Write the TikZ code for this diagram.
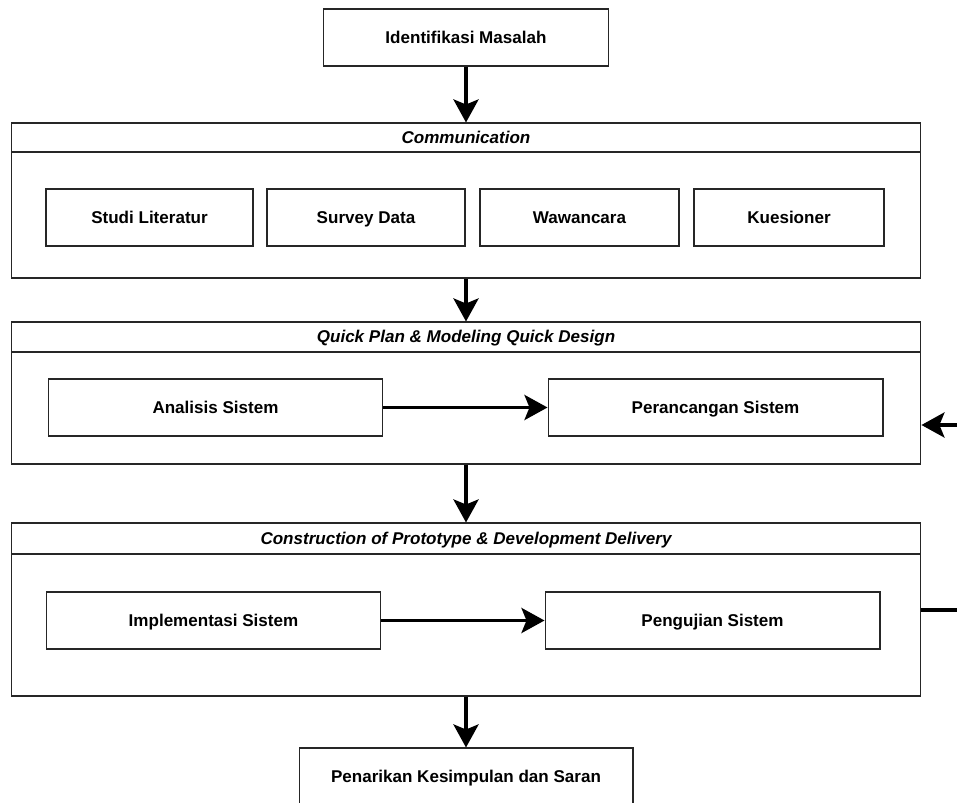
\documentclass[tikz,border=0pt]{standalone}
\usepackage{fontspec}
\setmainfont{Liberation Sans}
\usetikzlibrary{arrows.meta}
\begin{document}
\begin{tikzpicture}[x=0.02cm, y=-0.02cm,
    font=\fontsize{9.7}{11.6}\selectfont\bfseries,
    box/.style={draw=black!85, line width=0.6pt, minimum height=1.14cm, inner sep=0pt,
      text height=1.6ex, text depth=0.4ex},
    group/.style={draw=black!85, line width=0.6pt, minimum width=18.2cm, inner sep=0pt,
      text height=1.6ex, text depth=0.4ex},
    band/.style={group, font=\fontsize{9.7}{11.6}\selectfont\bfseries\itshape},
    flow/.style={line width=2.2pt, -{Stealth[length=0.46cm, width=0.5cm, inset=0.1cm]}}]
  \useasboundingbox (0,0) rectangle (957,803);
  % start
  \node[box, minimum width=5.7cm] (ident) at (466,37.5) {Identifikasi Masalah};
  % communication
  \node[group, minimum height=3.1cm] (comm) at (466,200.5) {};
  \node[band, minimum height=0.58cm] (commt) at (466,137.5) {Communication};
  \node[box, minimum width=4.14cm] (studi) at (149.5,217.5) {Studi Literatur};
  \node[box, minimum width=3.96cm] (survey) at (366,217.5) {Survey Data};
  \node[box, minimum width=3.98cm] (wawan) at (579.5,217.5) {Wawancara};
  \node[box, minimum width=3.8cm] (kues) at (789,217.5) {Kuesioner};
  % quick plan
  \node[group, minimum height=2.84cm] (plan) at (466,393) {};
  \node[band, minimum height=0.6cm] (plant) at (466,337) {Quick Plan \& Modeling Quick Design};
  \node[box, minimum width=6.7cm] (analisis) at (215.5,407.5) {Analisis Sistem};
  \node[box, minimum width=6.7cm] (rancang) at (715.5,407.5) {Perancangan Sistem};
  % construction
  \node[group, minimum height=3.46cm] (build) at (466,609.5) {};
  \node[band, minimum height=0.62cm] (buildt) at (466,538.5) {Construction of Prototype \& Development Delivery};
  \node[box, minimum width=6.7cm] (impl) at (213.5,620.5) {Implementasi Sistem};
  \node[box, minimum width=6.7cm] (uji) at (712.5,620.5) {Pengujian Sistem};
  % end
  \node[box, minimum width=6.68cm] (tarik) at (466,776.5) {Penarikan Kesimpulan dan Saran};
  \coordinate (fbin) at (957,425);
  \coordinate (fbout) at (957,610);
  \draw[flow] (ident) -- (comm);
  \draw[flow] (comm) -- (plan);
  \draw[flow] (plan) -- (build);
  \draw[flow] (build) -- (tarik);
  \draw[flow] (analisis) -- (rancang);
  \draw[flow] (impl) -- (uji);
  \draw[flow] (fbin) -- (fbin -| plan.east);
  \draw[line width=2.2pt] (build.east |- fbout) -- (fbout);
\end{tikzpicture}
\end{document}
